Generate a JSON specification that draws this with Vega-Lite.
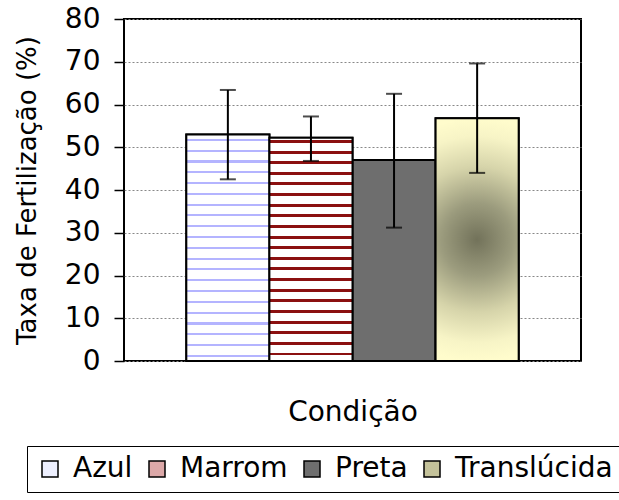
{
  "$schema": "https://vega.github.io/schema/vega-lite/v6.json",
  "width": 457,
  "height": 342,
  "autosize": {"type": "none"},
  "padding": {"left": 124, "top": 19, "right": 38, "bottom": 139},
  "background": "white",
  "config": {
    "view": {"stroke": "black", "strokeWidth": 2},
    "font": "DejaVu Sans"
  },
  "data": {
    "values": [
      {"condicao": "Azul", "taxa": 53.0, "lo": 42.5, "hi": 63.4},
      {"condicao": "Marrom", "taxa": 52.2, "lo": 46.8, "hi": 57.2},
      {"condicao": "Preta", "taxa": 47.0, "lo": 31.2, "hi": 62.5},
      {"condicao": "Translúcida", "taxa": 56.8, "lo": 44.0, "hi": 69.6}
    ]
  },
  "encoding": {
    "x": {
      "field": "condicao",
      "type": "nominal",
      "sort": null,
      "scale": {"paddingInner": 0, "paddingOuter": 0.75},
      "axis": {
        "title": "Condição",
        "labels": false,
        "ticks": false,
        "domain": false,
        "titleFont": "DejaVu Sans",
        "titleFontSize": 28,
        "titleFontWeight": "normal",
        "titleColor": "black",
        "titleBaseline": "alphabetic",
        "titleY": 59
      }
    }
  },
  "layer": [
    {
      "mark": {"type": "bar", "stroke": "black", "strokeWidth": 2, "opacity": 1, "fillOpacity": 1},
      "encoding": {
        "y": {
          "field": "taxa",
          "type": "quantitative",
          "scale": {"domain": [0, 80], "nice": false},
          "axis": {
            "title": "Taxa de Fertilização (%)",
            "values": [0, 10, 20, 30, 40, 50, 60, 70, 80],
            "grid": true,
            "gridColor": "#888888",
            "gridDash": [2, 2],
            "gridWidth": 1,
            "domain": false,
            "tickColor": "black",
            "tickSize": 10,
            "tickWidth": 1.5,
            "labelFont": "DejaVu Sans",
            "labelFontSize": 28,
            "labelColor": "black",
            "labelPadding": 14,
            "titleFont": "DejaVu Sans",
            "titleFontSize": 26,
            "titleFontWeight": "normal",
            "titleColor": "black",
            "titleAngle": -90,
            "titleBaseline": "middle",
            "titleAlign": "center",
            "titleX": -97,
            "titleY": 171
          }
        },
        "color": {
          "field": "condicao",
          "type": "nominal",
          "sort": null,
          "scale": {
            "domain": ["Azul", "Marrom", "Preta", "Translúcida"],
            "range": ["#eef0ff", "#dca8a8", "#6e6e6e", "#c4c29a"]
          },
          "legend": {
            "title": null,
            "orient": "none",
            "legendX": -97,
            "legendY": 427,
            "direction": "horizontal",
            "strokeColor": "black",
            "padding": 9,
            "symbolType": "square",
            "symbolSize": 256,
            "symbolStrokeColor": "black",
            "symbolStrokeWidth": 1.5,
            "symbolOpacity": 1,
            "labelFont": "DejaVu Sans",
            "labelFontSize": 28,
            "labelColor": "black",
            "labelOffset": 9,
            "columnPadding": 10,
            "labelLimit": 400
          }
        }
      }
    },
    {
      "transform": [{"filter": "datum.condicao === 'Azul'"}],
      "mark": {"type": "bar", "stroke": "black", "strokeWidth": 2, "fill": {"gradient": "linear", "x1": 0, "y1": 0, "x2": 0, "y2": 1, "stops": [
                {"offset": 0, "color": "white"},
                {"offset": 0.020, "color": "white"}, {"offset": 0.020, "color": "#b4b4ff"}, {"offset": 0.029, "color": "#b4b4ff"}, {"offset": 0.029, "color": "white"},
                {"offset": 0.068, "color": "white"}, {"offset": 0.068, "color": "#b4b4ff"}, {"offset": 0.077, "color": "#b4b4ff"}, {"offset": 0.077, "color": "white"},
                {"offset": 0.115, "color": "white"}, {"offset": 0.115, "color": "#b4b4ff"}, {"offset": 0.124, "color": "#b4b4ff"}, {"offset": 0.124, "color": "white"},
                {"offset": 0.163, "color": "white"}, {"offset": 0.163, "color": "#b4b4ff"}, {"offset": 0.172, "color": "#b4b4ff"}, {"offset": 0.172, "color": "white"},
                {"offset": 0.210, "color": "white"}, {"offset": 0.210, "color": "#b4b4ff"}, {"offset": 0.219, "color": "#b4b4ff"}, {"offset": 0.219, "color": "white"},
                {"offset": 0.258, "color": "white"}, {"offset": 0.258, "color": "#b4b4ff"}, {"offset": 0.267, "color": "#b4b4ff"}, {"offset": 0.267, "color": "white"},
                {"offset": 0.306, "color": "white"}, {"offset": 0.306, "color": "#b4b4ff"}, {"offset": 0.315, "color": "#b4b4ff"}, {"offset": 0.315, "color": "white"},
                {"offset": 0.353, "color": "white"}, {"offset": 0.353, "color": "#b4b4ff"}, {"offset": 0.362, "color": "#b4b4ff"}, {"offset": 0.362, "color": "white"},
                {"offset": 0.401, "color": "white"}, {"offset": 0.401, "color": "#b4b4ff"}, {"offset": 0.410, "color": "#b4b4ff"}, {"offset": 0.410, "color": "white"},
                {"offset": 0.449, "color": "white"}, {"offset": 0.449, "color": "#b4b4ff"}, {"offset": 0.458, "color": "#b4b4ff"}, {"offset": 0.458, "color": "white"},
                {"offset": 0.496, "color": "white"}, {"offset": 0.496, "color": "#b4b4ff"}, {"offset": 0.505, "color": "#b4b4ff"}, {"offset": 0.505, "color": "white"},
                {"offset": 0.544, "color": "white"}, {"offset": 0.544, "color": "#b4b4ff"}, {"offset": 0.553, "color": "#b4b4ff"}, {"offset": 0.553, "color": "white"},
                {"offset": 0.591, "color": "white"}, {"offset": 0.591, "color": "#b4b4ff"}, {"offset": 0.600, "color": "#b4b4ff"}, {"offset": 0.600, "color": "white"},
                {"offset": 0.639, "color": "white"}, {"offset": 0.639, "color": "#b4b4ff"}, {"offset": 0.648, "color": "#b4b4ff"}, {"offset": 0.648, "color": "white"},
                {"offset": 0.687, "color": "white"}, {"offset": 0.687, "color": "#b4b4ff"}, {"offset": 0.696, "color": "#b4b4ff"}, {"offset": 0.696, "color": "white"},
                {"offset": 0.734, "color": "white"}, {"offset": 0.734, "color": "#b4b4ff"}, {"offset": 0.743, "color": "#b4b4ff"}, {"offset": 0.743, "color": "white"},
                {"offset": 0.782, "color": "white"}, {"offset": 0.782, "color": "#b4b4ff"}, {"offset": 0.791, "color": "#b4b4ff"}, {"offset": 0.791, "color": "white"},
                {"offset": 0.830, "color": "white"}, {"offset": 0.830, "color": "#b4b4ff"}, {"offset": 0.839, "color": "#b4b4ff"}, {"offset": 0.839, "color": "white"},
                {"offset": 0.877, "color": "white"}, {"offset": 0.877, "color": "#b4b4ff"}, {"offset": 0.886, "color": "#b4b4ff"}, {"offset": 0.886, "color": "white"},
                {"offset": 0.925, "color": "white"}, {"offset": 0.925, "color": "#b4b4ff"}, {"offset": 0.934, "color": "#b4b4ff"}, {"offset": 0.934, "color": "white"},
                {"offset": 0.972, "color": "white"}, {"offset": 0.972, "color": "#b4b4ff"}, {"offset": 0.981, "color": "#b4b4ff"}, {"offset": 0.981, "color": "white"},
                {"offset": 1, "color": "white"}
              ]}},
      "encoding": {"y": {"field": "taxa", "type": "quantitative"}}
    },
    {
      "transform": [{"filter": "datum.condicao === 'Marrom'"}],
      "mark": {"type": "bar", "stroke": "black", "strokeWidth": 2, "fill": {"gradient": "linear", "x1": 0, "y1": 0, "x2": 0, "y2": 1, "stops": [
                {"offset": 0, "color": "white"},
                {"offset": 0.010, "color": "white"}, {"offset": 0.010, "color": "#8b1010"}, {"offset": 0.023, "color": "#8b1010"}, {"offset": 0.023, "color": "white"},
                {"offset": 0.058, "color": "white"}, {"offset": 0.058, "color": "#8b1010"}, {"offset": 0.071, "color": "#8b1010"}, {"offset": 0.071, "color": "white"},
                {"offset": 0.105, "color": "white"}, {"offset": 0.105, "color": "#8b1010"}, {"offset": 0.118, "color": "#8b1010"}, {"offset": 0.118, "color": "white"},
                {"offset": 0.153, "color": "white"}, {"offset": 0.153, "color": "#8b1010"}, {"offset": 0.166, "color": "#8b1010"}, {"offset": 0.166, "color": "white"},
                {"offset": 0.200, "color": "white"}, {"offset": 0.200, "color": "#8b1010"}, {"offset": 0.213, "color": "#8b1010"}, {"offset": 0.213, "color": "white"},
                {"offset": 0.248, "color": "white"}, {"offset": 0.248, "color": "#8b1010"}, {"offset": 0.261, "color": "#8b1010"}, {"offset": 0.261, "color": "white"},
                {"offset": 0.296, "color": "white"}, {"offset": 0.296, "color": "#8b1010"}, {"offset": 0.309, "color": "#8b1010"}, {"offset": 0.309, "color": "white"},
                {"offset": 0.343, "color": "white"}, {"offset": 0.343, "color": "#8b1010"}, {"offset": 0.356, "color": "#8b1010"}, {"offset": 0.356, "color": "white"},
                {"offset": 0.391, "color": "white"}, {"offset": 0.391, "color": "#8b1010"}, {"offset": 0.404, "color": "#8b1010"}, {"offset": 0.404, "color": "white"},
                {"offset": 0.439, "color": "white"}, {"offset": 0.439, "color": "#8b1010"}, {"offset": 0.452, "color": "#8b1010"}, {"offset": 0.452, "color": "white"},
                {"offset": 0.486, "color": "white"}, {"offset": 0.486, "color": "#8b1010"}, {"offset": 0.499, "color": "#8b1010"}, {"offset": 0.499, "color": "white"},
                {"offset": 0.534, "color": "white"}, {"offset": 0.534, "color": "#8b1010"}, {"offset": 0.547, "color": "#8b1010"}, {"offset": 0.547, "color": "white"},
                {"offset": 0.581, "color": "white"}, {"offset": 0.581, "color": "#8b1010"}, {"offset": 0.594, "color": "#8b1010"}, {"offset": 0.594, "color": "white"},
                {"offset": 0.629, "color": "white"}, {"offset": 0.629, "color": "#8b1010"}, {"offset": 0.642, "color": "#8b1010"}, {"offset": 0.642, "color": "white"},
                {"offset": 0.677, "color": "white"}, {"offset": 0.677, "color": "#8b1010"}, {"offset": 0.690, "color": "#8b1010"}, {"offset": 0.690, "color": "white"},
                {"offset": 0.724, "color": "white"}, {"offset": 0.724, "color": "#8b1010"}, {"offset": 0.737, "color": "#8b1010"}, {"offset": 0.737, "color": "white"},
                {"offset": 0.772, "color": "white"}, {"offset": 0.772, "color": "#8b1010"}, {"offset": 0.785, "color": "#8b1010"}, {"offset": 0.785, "color": "white"},
                {"offset": 0.820, "color": "white"}, {"offset": 0.820, "color": "#8b1010"}, {"offset": 0.833, "color": "#8b1010"}, {"offset": 0.833, "color": "white"},
                {"offset": 0.867, "color": "white"}, {"offset": 0.867, "color": "#8b1010"}, {"offset": 0.880, "color": "#8b1010"}, {"offset": 0.880, "color": "white"},
                {"offset": 0.915, "color": "white"}, {"offset": 0.915, "color": "#8b1010"}, {"offset": 0.928, "color": "#8b1010"}, {"offset": 0.928, "color": "white"},
                {"offset": 0.962, "color": "white"}, {"offset": 0.962, "color": "#8b1010"}, {"offset": 0.975, "color": "#8b1010"}, {"offset": 0.975, "color": "white"},
                {"offset": 1, "color": "white"}
              ]}},
      "encoding": {"y": {"field": "taxa", "type": "quantitative"}}
    },
    {
      "transform": [{"filter": "datum.condicao === 'Translúcida'"}],
      "mark": {"type": "bar", "stroke": "black", "strokeWidth": 2, "fill": {"gradient": "radial", "x1": 0.5, "y1": 0.5, "r1": 0, "x2": 0.5, "y2": 0.5, "r2": 0.5, "stops": [
                {"offset": 0, "color": "#72725a"},
                {"offset": 0.3, "color": "#9c9c7e"},
                {"offset": 0.6, "color": "#d6d4aa"},
                {"offset": 0.85, "color": "#f7f4c6"},
                {"offset": 1, "color": "#fffccc"}
              ]}},
      "encoding": {"y": {"field": "taxa", "type": "quantitative"}}
    },
    {
      "mark": {"type": "rule", "color": "black", "strokeWidth": 2},
      "encoding": {
        "y": {"field": "lo", "type": "quantitative"},
        "y2": {"field": "hi"}
      }
    },
    {
      "mark": {"type": "tick", "color": "black", "thickness": 2, "size": 16, "orient": "horizontal"},
      "encoding": {
        "y": {"field": "hi", "type": "quantitative"}
      }
    },
    {
      "mark": {"type": "tick", "color": "black", "thickness": 2, "size": 16, "orient": "horizontal"},
      "encoding": {
        "y": {"field": "lo", "type": "quantitative"}
      }
    }
  ]
}
